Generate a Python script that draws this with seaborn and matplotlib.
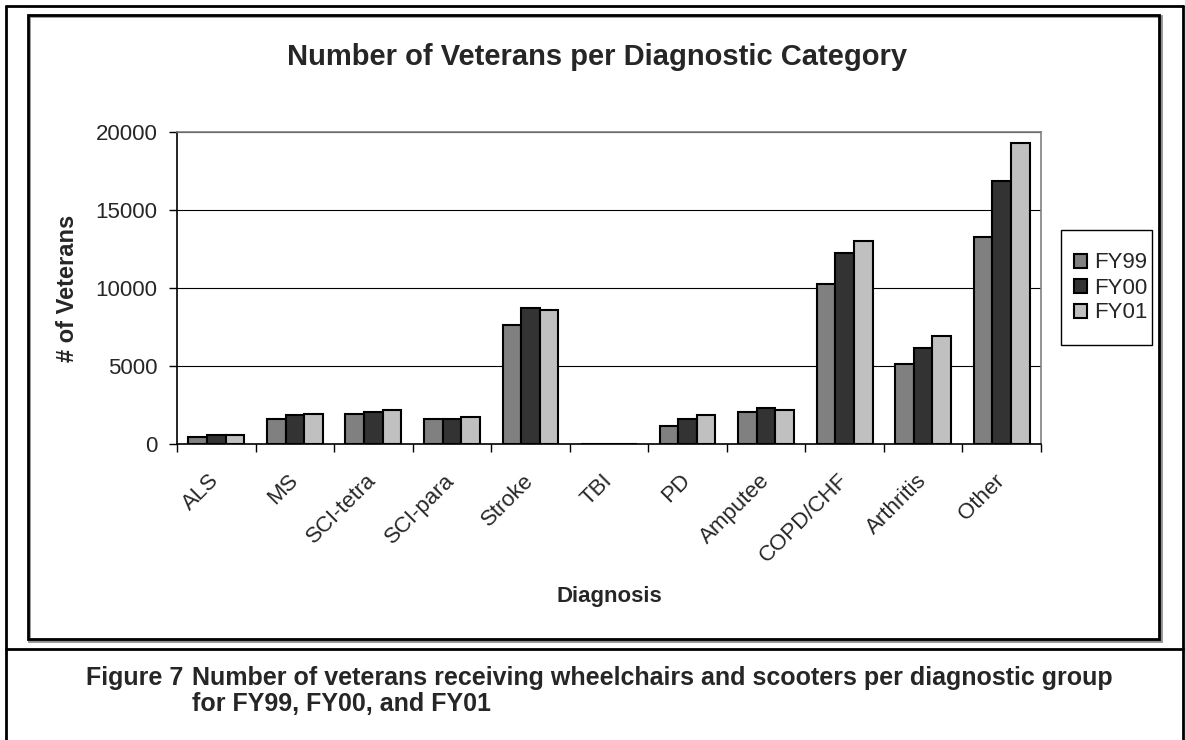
import numpy as np
import pandas as pd
import matplotlib
matplotlib.use("Agg")
import matplotlib.pyplot as plt
import seaborn as sns
from matplotlib.lines import Line2D
from matplotlib.patches import Rectangle

# =========================
# DATA
# =========================

categories = ["ALS", "MS", "SCI-tetra", "SCI-para", "Stroke", "TBI",
              "PD", "Amputee", "COPD/CHF", "Arthritis", "Other"]
years = ["FY99", "FY00", "FY01"]

fy99 = [450, 1600, 1940, 1600, 7660, 0, 1150, 2070, 10240, 5100, 13250]
fy00 = [580, 1860, 2070, 1600, 8730, 0, 1600, 2330, 12230, 6170, 16880]
fy01 = [580, 1940, 2180, 1750, 8600, 0, 1860, 2200, 13040, 6950, 19310]

yticks = [0, 5000, 10000, 15000, 20000]
bar_colors = ["#808080", "#333333", "#c0c0c0"]

df = pd.DataFrame({
    "Diagnosis": categories * 3,
    "Year": np.repeat(years, len(categories)),
    "Veterans": fy99 + fy00 + fy01,
})

# =========================
# STYLE
# =========================

sns.set_style("white")
plt.rcParams["font.family"] = ["Liberation Sans", "DejaVu Sans"]

W, H = 1185, 740
fig = plt.figure(figsize=(W / 100, H / 100), dpi=100)

# axes box in pixels: left 177, right 1041, top 132, bottom 444
ax = fig.add_axes([177 / W, 1 - 444 / H, (1041 - 177) / W, (444 - 132) / H])

# =========================
# BARS
# =========================

sns.barplot(
    data=df,
    x="Diagnosis",
    y="Veterans",
    hue="Year",
    order=categories,
    hue_order=years,
    palette=bar_colors,
    saturation=1,
    width=0.71,
    edgecolor="black",
    linewidth=1.5,
    errorbar=None,
    ax=ax,
)

# =========================
# AXES
# =========================

ax.set_ylim(0, 20000)
ax.set_xlim(-0.5, len(categories) - 0.5)
ax.set_yticks(yticks)
ax.set_yticklabels([str(t) for t in yticks], fontsize=16)
ax.set_axisbelow(True)
ax.yaxis.grid(True, color="black", linewidth=0.8)

# category labels at centres, tick marks at boundaries (Excel style)
ax.set_xticks(range(len(categories)))
ax.set_xticklabels(categories, fontsize=16, rotation=45,
                   ha="right", va="center", rotation_mode="anchor")
ax.set_xticks(np.arange(-0.5, len(categories)), minor=True)
ax.tick_params(axis="x", which="major", length=0, pad=24)
ax.tick_params(axis="x", which="minor", length=6, width=1, color="black",
               direction="out", bottom=True)
ax.tick_params(axis="y", length=6, width=1, color="black",
               direction="out", left=True, pad=8)

for side in ["left", "bottom"]:
    ax.spines[side].set_color("black")
    ax.spines[side].set_linewidth(1.2)
for side in ["top", "right"]:
    ax.spines[side].set_color("#808080")
    ax.spines[side].set_linewidth(1.2)

ax.set_xlabel("Diagnosis", fontsize=16, fontweight="bold")
ax.xaxis.set_label_coords(0.5, -0.455)
ax.set_ylabel("# of Veterans", fontsize=17, fontweight="bold")
ax.yaxis.set_label_coords(-0.113, 0.5)

# =========================
# LEGEND
# =========================

ax.legend(
    title=None,
    loc="center left",
    bbox_to_anchor=(1.028, 0.5),
    borderaxespad=0,
    fontsize=16,
    frameon=False,
    handlelength=0.6,
    handleheight=0.6,
    handletextpad=0.3,
    labelspacing=0.18,
)
# Excel-like legend box: more room top and bottom than at the sides
fig.add_artist(Rectangle((1061 / W, 1 - 345 / H), (1152 - 1061) / W, (345 - 230) / H,
                         transform=fig.transFigure, fill=False,
                         edgecolor="black", linewidth=1.0))

# =========================
# TITLE, FRAMES, CAPTION
# =========================

fig.text(597 / W, 1 - 57 / H, "Number of Veterans per Diagnostic Category",
         ha="center", va="center", fontsize=21, fontweight="bold")

# chart border with a faint shadow
fig.add_artist(Rectangle((29 / W, 1 - 641 / H), (1160 - 28) / W, (640 - 15) / H,
                         transform=fig.transFigure, fill=False,
                         edgecolor="#909090", linewidth=2))
fig.add_artist(Rectangle((28 / W, 1 - 639 / H), (1159 - 28) / W, (639 - 15) / H,
                         transform=fig.transFigure, fill=False,
                         edgecolor="black", linewidth=2))

# outer figure frame and caption separator
frame_lines = [
    ([6 / W, 6 / W], [0, 1 - 6 / H]),
    ([6 / W, 1183 / W], [1 - 6 / H, 1 - 6 / H]),
    ([1183 / W, 1183 / W], [0, 1 - 6 / H]),
    ([6 / W, 1183 / W], [1 - 649 / H, 1 - 649 / H]),
]
for xs, ys in frame_lines:
    fig.add_artist(Line2D(xs, ys, transform=fig.transFigure,
                          color="black", linewidth=2))

fig.text(86 / W, 1 - 678 / H, "Figure 7", ha="left", va="center",
         fontsize=18, fontweight="bold")
fig.text(192 / W, 1 - 678 / H,
         "Number of veterans receiving wheelchairs and scooters per diagnostic group",
         ha="left", va="center", fontsize=18, fontweight="bold")
fig.text(192 / W, 1 - 704 / H, "for FY99, FY00, and FY01",
         ha="left", va="center", fontsize=18, fontweight="bold")

fig.savefig("out.png", dpi=100)
plt.close()
